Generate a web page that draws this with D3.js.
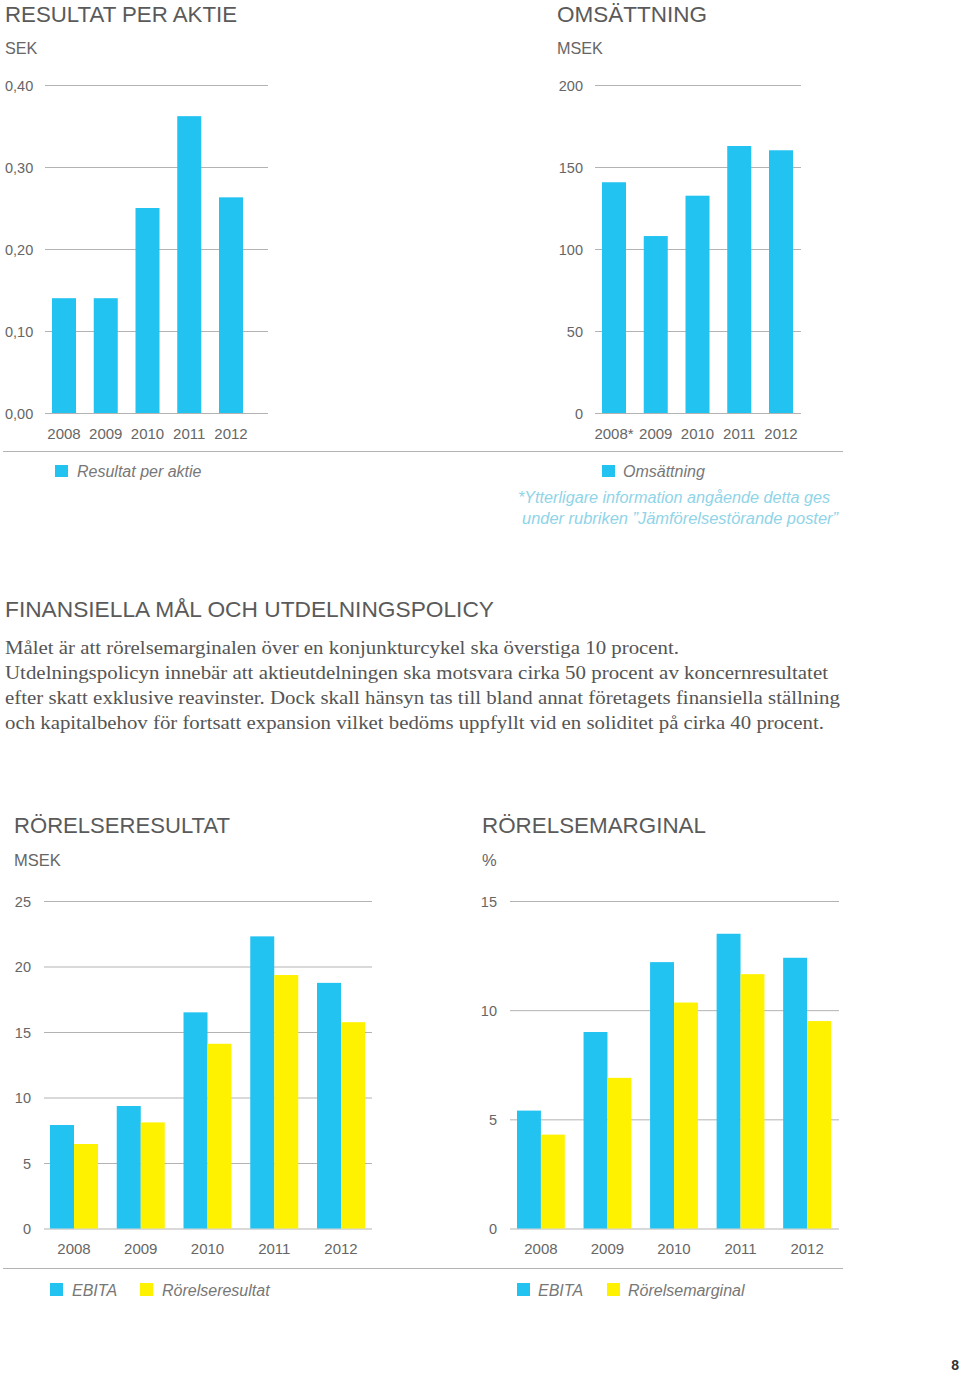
<!DOCTYPE html>
<html>
<head>
<meta charset="utf-8">
<script src="https://cdn.jsdelivr.net/npm/d3@7"></script>
<style>
  html, body { margin: 0; padding: 0; background: #ffffff; }
  svg { display: block; }
</style>
</head>
<body>
<svg id="page" width="960" height="1373"></svg>
<script>
// ---------- DATA ----------
const years = ["2008", "2009", "2010", "2011", "2012"];
const omsYears = ["2008*", "2009", "2010", "2011", "2012"];

const epsValues = [0.14, 0.14, 0.25, 0.362, 0.263];          // Resultat per aktie, SEK
const omsValues = [140.7, 107.9, 132.5, 162.8, 160.2];        // Omsättning, MSEK

const ebitaMsek = [7.9, 9.35, 16.5, 22.3, 18.75];             // EBITA, MSEK
const rorelseresultat = [6.45, 8.1, 14.1, 19.35, 15.75];      // Rörelseresultat, MSEK

const ebitaPct = [5.4, 9.0, 12.2, 13.5, 12.4];                // EBITA, %
const rorelsemarginal = [4.3, 6.9, 10.35, 11.65, 9.5];        // Rörelsemarginal, %

const epsTicks = [0, 0.1, 0.2, 0.3, 0.4];
const omsTicks = [0, 50, 100, 150, 200];
const rrTicks = [0, 5, 10, 15, 20, 25];
const rmTicks = [0, 5, 10, 15];

const paragraphLines = [
  "Målet är att rörelsemarginalen över en konjunkturcykel ska överstiga 10 procent.",
  "Utdelningspolicyn innebär att aktieutdelningen ska motsvara cirka 50 procent av koncernresultatet",
  "efter skatt exklusive reavinster. Dock skall hänsyn tas till bland annat företagets finansiella ställning",
  "och kapitalbehov för fortsatt expansion vilket bedöms uppfyllt vid en soliditet på cirka 40 procent."
];
const footnoteLines = [
  "*Ytterligare information angående detta ges",
  "under rubriken ”Jämförelsestörande poster”"
];

// ---------- STYLE ----------
const BLUE = "#22c2f1";
const YELLOW = "#fff200";
const GRID = "#b3b3b3";
const TXT = "#666666";
const TITLE = "#5a5a5a";
const SANS = '"Liberation Sans", Arial, Helvetica, sans-serif';
const SERIF = '"Liberation Serif", "Times New Roman", serif';

const sv = d3.formatLocale({decimal: ",", thousands: " ", grouping: [3], currency: ["", " kr"]});
const fmt2 = sv.format(".2f");
const fmt0 = sv.format("d");

const svg = d3.select("#page");

function text(x, y, str, opts = {}) {
  const t = svg.append("text")
    .attr("x", x).attr("y", y)
    .attr("font-family", opts.family || SANS)
    .attr("font-size", opts.size || 16)
    .attr("font-style", opts.italic ? "italic" : null)
    .attr("font-weight", opts.weight || null)
    .attr("fill", opts.color || TXT)
    .attr("text-anchor", opts.anchor || "start")
    .text(str);
  if (opts.width) t.attr("textLength", opts.width).attr("lengthAdjust", "spacingAndGlyphs");
  return t;
}

// ---------- GENERIC CHART ----------
function chart(cfg) {
  const g = svg.append("g");
  const y = d3.scaleLinear().domain([0, cfg.max]).range([cfg.yBottom, cfg.yTop]);
  const x = d3.scaleBand().domain(cfg.cats).range(cfg.xRange)
    .paddingInner(cfg.paddingInner).paddingOuter(0);

  // gridlines + tick labels via axis
  const axis = d3.axisRight(y)
    .tickValues(cfg.ticks)
    .tickFormat(cfg.fmt)
    .tickSize(cfg.gridX1 - cfg.gridX0)
    .tickPadding(0);
  const ax = g.append("g").attr("transform", `translate(${cfg.gridX0},0)`).call(axis);
  ax.select(".domain").remove();
  ax.selectAll(".tick line").attr("stroke", GRID).attr("stroke-width", 1);
  ax.selectAll(".tick text")
    .attr("x", cfg.labelX - cfg.gridX0)
    .attr("dy", "0.35em")
    .attr("text-anchor", cfg.labelAnchor)
    .attr("fill", TXT)
    .attr("font-family", SANS)
    .attr("font-size", 14.5);

  // bars
  const inner = d3.scaleBand().domain(d3.range(cfg.series.length))
    .range([0, x.bandwidth()]).padding(0);
  cfg.series.forEach((s, si) => {
    g.append("g").selectAll("rect")
      .data(s.values)
      .join("rect")
      .attr("x", (d, i) => x(cfg.cats[i]) + inner(si))
      .attr("width", inner.bandwidth())
      .attr("y", d => y(d))
      .attr("height", d => y(0) - y(d))
      .attr("fill", s.color);
  });

  // category labels via bottom axis
  const xa = d3.axisBottom(x).tickSize(0).tickPadding(0);
  const xg = g.append("g").attr("transform", `translate(0,${cfg.yearY})`).call(xa);
  xg.select(".domain").remove();
  xg.selectAll(".tick text")
    .attr("y", 0).attr("dy", 0)
    .attr("fill", TXT)
    .attr("font-family", SANS)
    .attr("font-size", 15);
}

// ---------- TOP LEFT: RESULTAT PER AKTIE ----------
text(5, 22, "RESULTAT PER AKTIE", {size: 22.3, color: TITLE, width: 232});
text(5, 54, "SEK", {size: 16.2, color: TXT});
chart({
  cats: years, series: [{values: epsValues, color: BLUE}],
  max: 0.4, ticks: epsTicks, fmt: fmt2,
  yBottom: 413, yTop: 85,
  xRange: [52, 243], paddingInner: 0.425,
  gridX0: 45, gridX1: 268,
  labelX: 5, labelAnchor: "start",
  yearY: 439
});

// ---------- TOP RIGHT: OMSÄTTNING ----------
text(557, 22, "OMSÄTTNING", {size: 22.3, color: TITLE, width: 150});
text(557, 54, "MSEK", {size: 16.2, color: TXT});
chart({
  cats: omsYears, series: [{values: omsValues, color: BLUE}],
  max: 200, ticks: omsTicks, fmt: fmt0,
  yBottom: 413, yTop: 85,
  xRange: [602, 793], paddingInner: 0.425,
  gridX0: 595, gridX1: 801,
  labelX: 583, labelAnchor: "end",
  yearY: 439
});

// separator top
svg.append("line").attr("x1", 3).attr("x2", 843).attr("y1", 451.5).attr("y2", 451.5)
  .attr("stroke", GRID).attr("stroke-width", 1);

// legends top
svg.append("rect").attr("x", 55).attr("y", 465).attr("width", 13).attr("height", 12).attr("fill", BLUE);
text(77, 477, "Resultat per aktie", {size: 16, italic: true, color: "#777"});
svg.append("rect").attr("x", 602).attr("y", 465).attr("width", 13).attr("height", 12).attr("fill", BLUE);
text(623, 477, "Omsättning", {size: 16, italic: true, color: "#777"});
text(518, 503, footnoteLines[0], {size: 16, italic: true, color: "#8fd4e8", width: 312});
text(522, 524, footnoteLines[1], {size: 16, italic: true, color: "#8fd4e8", width: 316});

// ---------- MIDDLE TEXT ----------
text(5, 617, "FINANSIELLA MÅL OCH UTDELNINGSPOLICY", {size: 22.3, color: TITLE, width: 489});
const paraEnds = [679, 828, 840, 824];
paragraphLines.forEach((line, i) => {
  text(5, 654 + i * 25, line, {family: SERIF, size: 18.6, color: "#555", width: paraEnds[i] - 5});
});

// ---------- BOTTOM LEFT: RÖRELSERESULTAT ----------
text(14, 833, "RÖRELSERESULTAT", {size: 22.3, color: TITLE, width: 216});
text(14, 866, "MSEK", {size: 16.5, color: TXT});
chart({
  cats: years,
  series: [{values: ebitaMsek, color: BLUE}, {values: rorelseresultat, color: YELLOW}],
  max: 25, ticks: rrTicks, fmt: fmt0,
  yBottom: 1228.5, yTop: 901,
  xRange: [50, 365], paddingInner: 0.281,
  gridX0: 44, gridX1: 372,
  labelX: 31, labelAnchor: "end",
  yearY: 1254
});

// ---------- BOTTOM RIGHT: RÖRELSEMARGINAL ----------
text(482, 833, "RÖRELSEMARGINAL", {size: 22.3, color: TITLE, width: 224});
text(482, 866, "%", {size: 16.5, color: TXT});
chart({
  cats: years,
  series: [{values: ebitaPct, color: BLUE}, {values: rorelsemarginal, color: YELLOW}],
  max: 15, ticks: rmTicks, fmt: fmt0,
  yBottom: 1228.5, yTop: 901,
  xRange: [517, 831], paddingInner: 0.281,
  gridX0: 510, gridX1: 839,
  labelX: 497, labelAnchor: "end",
  yearY: 1254
});

// separator bottom
svg.append("line").attr("x1", 3).attr("x2", 843).attr("y1", 1268.5).attr("y2", 1268.5)
  .attr("stroke", GRID).attr("stroke-width", 1);

// legends bottom
svg.append("rect").attr("x", 50).attr("y", 1283).attr("width", 13).attr("height", 13).attr("fill", BLUE);
text(72, 1296, "EBITA", {size: 16, italic: true, color: "#777"});
svg.append("rect").attr("x", 140).attr("y", 1283).attr("width", 13).attr("height", 13).attr("fill", YELLOW);
text(162, 1296, "Rörelseresultat", {size: 16, italic: true, color: "#777"});

svg.append("rect").attr("x", 517).attr("y", 1283).attr("width", 13).attr("height", 13).attr("fill", BLUE);
text(538, 1296, "EBITA", {size: 16, italic: true, color: "#777"});
svg.append("rect").attr("x", 607).attr("y", 1283).attr("width", 13).attr("height", 13).attr("fill", YELLOW);
text(628, 1296, "Rörelsemarginal", {size: 16, italic: true, color: "#777"});

// page number
text(959, 1370, "8", {size: 14, weight: "bold", color: "#333", anchor: "end"});
</script>
</body>
</html>
